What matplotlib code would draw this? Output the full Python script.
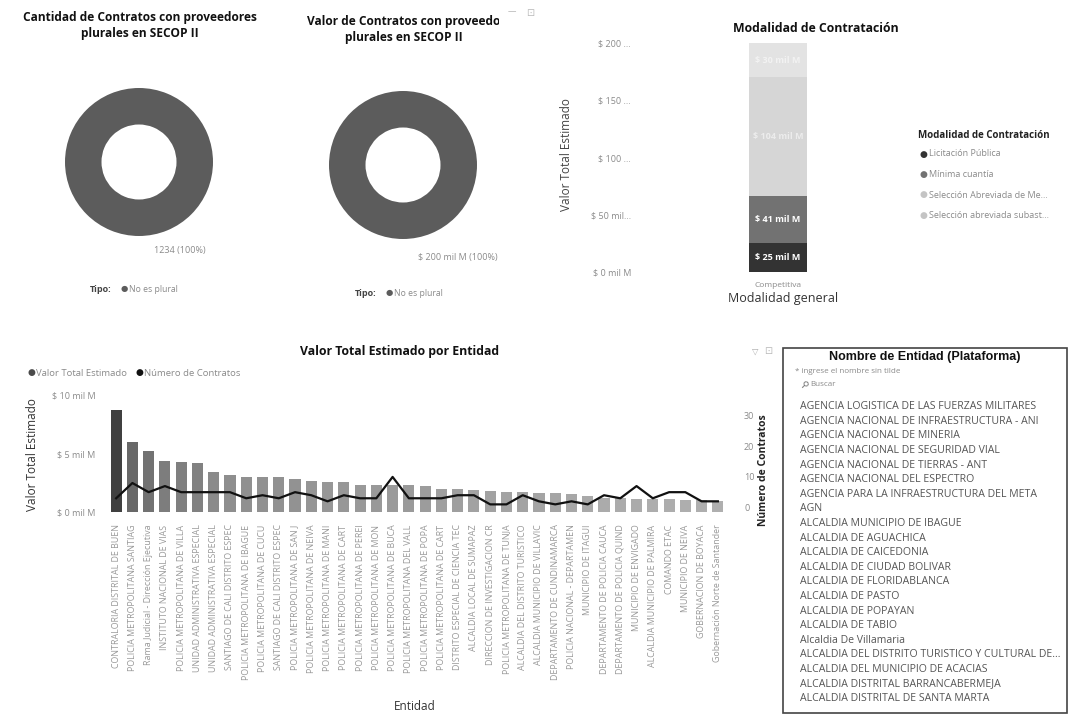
import numpy as np
import matplotlib
matplotlib.use("Agg")
import matplotlib.pyplot as plt
from matplotlib.patches import Rectangle

plt.rcParams['font.family'] = ['Open Sans', 'DejaVu Sans']

# ---- datos ----
contratos_total = 1234
valor_total = 200  # mil M
tipo = "No es plural"

modalidades = ["Licitación Pública", "Mínima cuantía",
               "Selección Abreviada de Me...", "Selección abreviada subast..."]
modalidad_valores = [25, 41, 104, 30]
modalidad_general = "Competitiva"

entidades = [
    "CONTRALORIA DISTRITAL DE BUEN", "POLICIA METROPOLITANA SANTIAG",
    "Rama Judicial - Dirección Ejecutiva", "INSTITUTO NACIONAL DE VIAS",
    "POLICIA METROPOLITANA DE VILLA", "UNIDAD ADMINISTRATIVA ESPECIAL",
    "UNIDAD ADMINISTRATIVA ESPECIAL", "SANTIAGO DE CALI DISTRITO ESPEC",
    "POLICIA METROPOLITANA DE IBAGUE", "POLICIA METROPOLITANA DE CUCU",
    "SANTIAGO DE CALI DISTRITO ESPEC", "POLICIA METROPOLITANA DE SAN J",
    "POLICIA METROPOLITANA DE NEIVA", "POLICIA METROPOLITANA DE MANI",
    "POLICIA METROPOLITANA DE CART", "POLICIA METROPOLITANA DE PEREI",
    "POLICIA METROPOLITANA DE MON", "POLICIA METROPOLITANA DE BUCA",
    "POLICIA METROPOLITANA DEL VALL", "POLICIA METROPOLITANA DE POPA",
    "POLICIA METROPOLITANA DE CART", "DISTRITO ESPECIAL DE CIENCIA TEC",
    "ALCALDIA LOCAL DE SUMAPAZ", "DIRECCION DE INVESTIGACION CR",
    "POLICIA METROPOLITANA DE TUNJA", "ALCALDIA DEL DISTRITO TURISTICO",
    "ALCALDIA MUNICIPIO DE VILLAVIC", "DEPARTAMENTO DE CUNDINAMARCA",
    "POLICIA NACIONAL - DEPARTAMEN", "MUNICIPIO DE ITAGUI",
    "DEPARTAMENTO DE POLICIA CAUCA", "DEPARTAMENTO DE POLICIA QUIND",
    "MUNICIPIO DE ENVIGADO", "ALCALDIA MUNICIPIO DE PALMIRA",
    "COMANDO ETAC", "MUNICIPIO DE NEIVA",
    "GOBERNACION DE BOYACA", "Gobernación Norte de Santander",
]
valor_entidad = [8.7, 6.0, 5.2, 4.35, 4.25, 4.15, 3.4, 3.2, 3.0, 2.95,
                 2.95, 2.85, 2.65, 2.55, 2.55, 2.35, 2.35, 2.3, 2.3, 2.2,
                 2.0, 1.95, 1.85, 1.8, 1.75, 1.75, 1.65, 1.6, 1.5, 1.35,
                 1.2, 1.2, 1.15, 1.1, 1.1, 1.05, 1.0, 0.95]
num_contratos = [3, 8, 5, 7, 5, 5, 5, 5, 3, 4,
                 3, 5, 4, 2, 4, 3, 3, 10, 3, 3,
                 3, 4, 4, 1, 1, 4, 2, 1, 2, 1,
                 4, 3, 7, 3, 5, 5, 2, 2]

slicer_items = [
    "AGENCIA LOGISTICA DE LAS FUERZAS MILITARES",
    "AGENCIA NACIONAL DE INFRAESTRUCTURA - ANI",
    "AGENCIA NACIONAL DE MINERIA",
    "AGENCIA NACIONAL DE SEGURIDAD VIAL",
    "AGENCIA NACIONAL DE TIERRAS - ANT",
    "AGENCIA NACIONAL DEL ESPECTRO",
    "AGENCIA PARA LA INFRAESTRUCTURA DEL META",
    "AGN",
    "ALCALDIA MUNICIPIO DE IBAGUE",
    "ALCALDIA DE AGUACHICA",
    "ALCALDIA DE CAICEDONIA",
    "ALCALDIA DE CIUDAD BOLIVAR",
    "ALCALDIA DE FLORIDABLANCA",
    "ALCALDIA DE PASTO",
    "ALCALDIA DE POPAYAN",
    "ALCALDIA DE TABIO",
    "Alcaldia De Villamaria",
    "ALCALDIA DEL DISTRITO TURISTICO Y CULTURAL DE...",
    "ALCALDIA DEL MUNICIPIO DE ACACIAS",
    "ALCALDIA DISTRITAL BARRANCABERMEJA",
    "ALCALDIA DISTRITAL DE SANTA MARTA",
]

W, H = 1070, 716
fig = plt.figure(figsize=(W / 100, H / 100), dpi=100)
fig.patch.set_facecolor("white")


def box(x0, y0, x1, y1):
    return [x0 / W, 1 - y1 / H, (x1 - x0) / W, (y1 - y0) / H]


def ftext(x, y, s, **kw):
    return fig.text(x / W, 1 - y / H, s, **kw)


GRAY_TXT = "#8a8a8a"
DONUT = "#5c5c5c"

# ---- donuts ----
def donut(cx, cy, value, label, lx, ly, leg_x, leg_y):
    ax = fig.add_axes(box(cx - 80, cy - 80, cx + 80, cy + 80))
    ax.pie([value], colors=[DONUT], radius=74 / 80, startangle=90,
           wedgeprops=dict(width=36.5 / 80, linewidth=0))
    ax.set_xlim(-1, 1)
    ax.set_ylim(-1, 1)
    ax.axis("off")
    ftext(lx, ly, label, fontsize=6.5, color=GRAY_TXT, ha="center", va="center")
    ftext(leg_x, leg_y, "Tipo:", fontsize=6.5, fontweight="bold", color="#444",
          va="center")
    ftext(leg_x + 31, leg_y, "●", fontsize=6, color=DONUT, va="center")
    ftext(leg_x + 39, leg_y, tipo, fontsize=6.2, color=GRAY_TXT, va="center")


ftext(140, 17, "Cantidad de Contratos con proveedores", fontsize=8.6,
      fontweight="bold", ha="center", va="center", color="#111")
ftext(140, 34, "plurales en SECOP II", fontsize=8.6,
      fontweight="bold", ha="center", va="center", color="#111")
donut(139, 162, contratos_total, f"{contratos_total} (100%)", 180, 250, 90, 289)

tax = fig.add_axes(box(280, 5, 499, 45))
tax.axis("off")
tax.set_xlim(280, 499)
tax.set_ylim(45, 5)
tax.text(413, 21, "Valor de Contratos con proveedores", fontsize=8.6,
         fontweight="bold", ha="center", va="center", color="#111", clip_on=True)
tax.text(404, 38, "plurales en SECOP II", fontsize=8.6,
         fontweight="bold", ha="center", va="center", color="#111", clip_on=True)
ftext(508, 12, "—", fontsize=6, color="#999", va="center")
ftext(526, 13, "⊡", fontsize=7, color="#bbb", va="center")
donut(403, 165, valor_total, f"$ {valor_total} mil M (100%)", 458, 257, 355, 293)

# ---- modalidad de contratación ----
mod_colors = ["#333333", "#727272", "#d6d6d6", "#e3e3e3"]
ax = fig.add_axes(box(645, 43, 911, 272))
bottom = 0
for name, v, c in zip(modalidades, modalidad_valores, mod_colors):
    ax.bar(0, v, bottom=bottom, width=0.218, color=c, linewidth=0)
    alpha = 1 if c in mod_colors[:2] else 0.55
    ax.text(0, bottom + v / 2, f"$ {v} mil M", color="white", alpha=alpha,
            fontsize=6.5, fontweight="bold", ha="center", va="center")
    bottom += v
ax.set_xlim(-0.5, 0.5)
ax.set_ylim(0, 200)
ax.set_yticks([0, 50, 100, 150, 200])
ax.set_yticklabels(["$ 0 mil M", "$ 50 mil...", "$ 100 ...", "$ 150 ...",
                    "$ 200 ..."], fontsize=6.5, color=GRAY_TXT)
ax.set_xticks([0])
ax.set_xticklabels([modalidad_general], fontsize=6, color=GRAY_TXT)
ax.tick_params(length=0, pad=7)
ax.tick_params(axis="y", pad=10)
for s in ax.spines.values():
    s.set_visible(False)
ftext(567, 155, "Valor Total Estimado", fontsize=8.5, color="#444",
      rotation=90, ha="center", va="center")
ftext(783, 299, "Modalidad general", fontsize=9, color="#333",
      ha="center", va="center")
ftext(816, 28, "Modalidad de Contratación", fontsize=8.8, fontweight="bold",
      ha="center", va="center", color="#111")

ftext(918, 136, "Modalidad de Contratación", fontsize=7, fontweight="bold",
      color="#222", va="center")
for i, (name, c) in enumerate(zip(modalidades, mod_colors)):
    y = 154 + i * 20.5
    ftext(920, y, "●", fontsize=6.5, color=c if i < 2 else "#c4c4c4", va="center")
    ftext(929, y, name, fontsize=6.5, color=GRAY_TXT, va="center")

# ---- valor total estimado por entidad ----
x = np.arange(len(entidades))
vals = np.array(valor_entidad)
shade = 0.42 + 0.38 * (vals - vals.min()) / (vals.max() - vals.min())
bar_colors = plt.cm.Greys(shade)

ax = fig.add_axes(box(108, 390, 726, 512))
ax.bar(x, vals, width=0.68, color=bar_colors, linewidth=0)
ax.set_xlim(-0.5, len(entidades) - 0.5)
ax.set_ylim(0, 10.43)
ax.set_yticks([0, 5, 10])
ax.set_yticklabels(["$ 0 mil M", "$ 5 mil M", "$ 10 mil M"], fontsize=6.5,
                   color=GRAY_TXT)
ax.set_xticks(x)
ax.set_xticklabels(entidades, rotation=90, fontsize=6.4, color="#999")
ax.tick_params(length=0)
ax.tick_params(axis="y", pad=9)
ax.tick_params(axis="x", pad=9)
for s in ax.spines.values():
    s.set_visible(False)

ax2 = ax.twinx()
ax2.plot(x, num_contratos, color="#111", lw=1.6)
ax2.set_ylim(-1.5, 38.5)
ax2.set_yticks([0, 10, 20, 30])
ax2.set_yticklabels(["0", "10", "20", "30"], fontsize=6.5, color=GRAY_TXT)
ax2.tick_params(length=0, pad=13)
for s in ax2.spines.values():
    s.set_visible(False)

ftext(400, 352, "Valor Total Estimado por Entidad", fontsize=8.8, fontweight="bold",
      ha="center", va="center", color="#111")
ftext(28, 373, "●", fontsize=6.5, color="#4a4a4a", va="center")
ftext(36, 373, "Valor Total Estimado", fontsize=6.8, color=GRAY_TXT, va="center")
ftext(136, 373, "●", fontsize=6.5, color="#111", va="center")
ftext(144, 373, "Número de Contratos", fontsize=6.8, color=GRAY_TXT, va="center")
ftext(33, 455, "Valor Total Estimado", fontsize=8.5, color="#333", rotation=90,
      ha="center", va="center")
ftext(763, 470, "Número de Contratos", fontsize=7.5, fontweight="bold",
      color="#222", rotation=90, ha="center", va="center")
ftext(415, 706, "Entidad", fontsize=8.5, color="#333", ha="center", va="center")
ftext(752, 352, "▽", fontsize=6, color="#aaa", va="center")
ftext(764, 352, "⊡", fontsize=7, color="#bbb", va="center")

# ---- slicer ----
fig.patches.append(Rectangle((783 / W, 1 - 713 / H), (1067 - 783) / W,
                             (713 - 348) / H, transform=fig.transFigure,
                             fill=False, edgecolor="#444", linewidth=1.2))
ftext(925, 357, "Nombre de Entidad (Plataforma)", fontsize=9,
      fontweight="bold", family="Liberation Sans", ha="center", va="center",
      color="#111")
ftext(795, 372, "* ingrese el nombre sin tilde", fontsize=5.8, color=GRAY_TXT,
      va="center")
ftext(797, 385, "⚲", fontsize=7, color="#777", va="center", rotation=-45)
ftext(810, 385, "Buscar", fontsize=5.8, color=GRAY_TXT, va="center")
for i, name in enumerate(slicer_items):
    ftext(800, 406.7 + i * 14.6, name, fontsize=7.6, color="#555", va="center")

fig.savefig("out.png", dpi=100, facecolor="white")
